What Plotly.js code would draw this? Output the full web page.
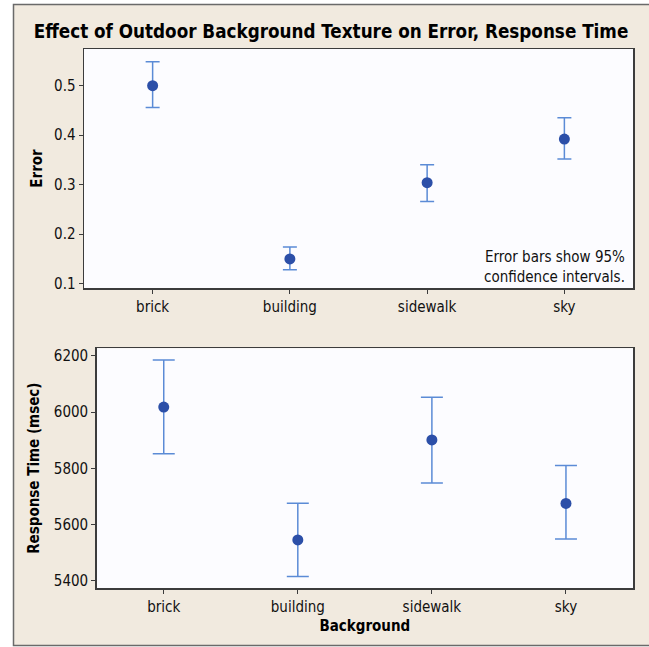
<!DOCTYPE html>
<html>
<head>
<meta charset="utf-8">
<script src="https://cdn.plot.ly/plotly-3.0.1.min.js"></script>
<style>html,body{margin:0;padding:0;background:#fff;}#chart{width:649px;height:647px;}</style>
</head>
<body>
<div id="chart"></div>
<script>
// ---- data ----
var categories = ['brick', 'building', 'sidewalk', 'sky'];
var errorMean  = [0.500, 0.150, 0.304, 0.392];
var errorUpper = [0.548, 0.174, 0.340, 0.435];
var errorLower = [0.456, 0.128, 0.266, 0.352];
var rtMean  = [6018, 5545, 5901, 5675];
var rtUpper = [6185, 5676, 6053, 5810];
var rtLower = [5852, 5415, 5748, 5548];
var errorTicks = [0.1, 0.2, 0.3, 0.4, 0.5];
var rtTicks = [5400, 5600, 5800, 6000, 6200];

function diff(a, b) { return a.map(function (v, i) { return +(v - b[i]).toFixed(4); }); }

var W = 649, H = 647, ML = 84, MR = 16, MT = 49, MB = 59;
var PW = W - ML - MR, PH = H - MT - MB;
function px(x) { return (x - ML) / PW; }
function py(y) { return (H - MB - y) / PH; }

var FAM = 'DejaVu Sans Condensed, DejaVu Sans, sans-serif';
var markerColor = '#2c4fa8';
var barColor = '#5b8bd6';
var axisColor = '#3c3c3c';
var tickFont = {family: FAM, size: 15, color: '#111'};
var titleFont = {family: FAM, size: 15, color: '#000', weight: 'bold'};

var traces = [
  {
    type: 'scatter', mode: 'markers', x: categories, y: errorMean,
    xaxis: 'x', yaxis: 'y',
    marker: {color: markerColor, size: 11},
    error_y: {type: 'data', symmetric: false, array: diff(errorUpper, errorMean),
              arrayminus: diff(errorMean, errorLower), color: barColor, thickness: 1.5, width: 7},
    hoverinfo: 'x+y', showlegend: false
  },
  {
    type: 'scatter', mode: 'markers', x: categories, y: rtMean,
    xaxis: 'x2', yaxis: 'y2',
    marker: {color: markerColor, size: 11},
    error_y: {type: 'data', symmetric: false, array: diff(rtUpper, rtMean),
              arrayminus: diff(rtMean, rtLower), color: barColor, thickness: 1.5, width: 11},
    hoverinfo: 'x+y', showlegend: false
  }
];

function xax(domain, anchor, title) {
  var a = {
    domain: domain, anchor: anchor, type: 'category', range: [-0.5, 3.5],
    showline: true, mirror: true, linecolor: axisColor, linewidth: 1.5,
    ticks: 'outside', ticklen: 4, tickcolor: axisColor, tickwidth: 1,
    showgrid: false, zeroline: false, tickfont: tickFont, fixedrange: true
  };
  if (title) a.title = {text: title, font: titleFont, standoff: 6};
  return a;
}
function yax(domain, anchor, range, ticks, title, standoff) {
  return {
    domain: domain, anchor: anchor, range: range, tickvals: ticks,
    showline: true, mirror: true, linecolor: axisColor, linewidth: 1.5,
    ticks: 'outside', ticklen: 4, tickcolor: axisColor, tickwidth: 1,
    showgrid: false, zeroline: false, tickfont: tickFont, fixedrange: true,
    title: {text: title, font: titleFont, standoff: standoff}
  };
}

var layout = {
  width: W, height: H,
  margin: {l: ML, r: MR, t: MT, b: MB, pad: 0},
  paper_bgcolor: '#f1eadf',
  plot_bgcolor: '#fcfcff',
  font: {family: FAM, color: '#111'},
  title: {
    text: 'Effect of Outdoor Background Texture on Error, Response Time',
    font: {family: FAM, size: 18.7, weight: 'bold', color: '#000'},
    x: px(331), xref: 'paper', xanchor: 'center',
    y: 1 - 31 / H, yref: 'container', yanchor: 'middle'
  },
  xaxis: xax([0, 1], 'y', null),
  yaxis: yax([py(288), 1], 'x', [0.0913, 0.574], errorTicks, 'Error', 8),
  xaxis2: xax([px(96.7), 1], 'y2', 'Background'),
  yaxis2: yax([0, py(348.3)], 'x2', [5374, 6227], rtTicks, 'Response Time (msec)', 10),
  annotations: [{
    text: 'Error bars show 95%<br>confidence intervals.',
    xref: 'x domain', yref: 'y domain', x: (627 - ML) / PW, y: 0.0,
    xanchor: 'right', yanchor: 'bottom', align: 'right', showarrow: false,
    font: {family: FAM, size: 15, color: '#111'}
  }],
  shapes: [
    // white page outside the frame
    {type: 'rect', xref: 'paper', yref: 'paper', x0: px(-5), x1: px(13), y0: py(-5), y1: py(H + 5),
     fillcolor: '#ffffff', line: {width: 0}, layer: 'below'},
    {type: 'rect', xref: 'paper', yref: 'paper', x0: px(-5), x1: px(W + 5), y0: py(4), y1: py(-5),
     fillcolor: '#ffffff', line: {width: 0}, layer: 'below'},
    {type: 'rect', xref: 'paper', yref: 'paper', x0: px(-5), x1: px(W + 5), y0: py(H + 5), y1: py(645.5),
     fillcolor: '#ffffff', line: {width: 0}, layer: 'below'},
    // frame
    {type: 'rect', xref: 'paper', yref: 'paper', x0: px(13.5), x1: px(W + 20), y0: py(645.5), y1: py(4.5),
     fillcolor: 'rgba(0,0,0,0)', line: {color: '#6a6a6a', width: 1.5}, layer: 'below'}
  ]
};

Plotly.newPlot('chart', traces, layout, {displayModeBar: false, staticPlot: true});
</script>
</body>
</html>
